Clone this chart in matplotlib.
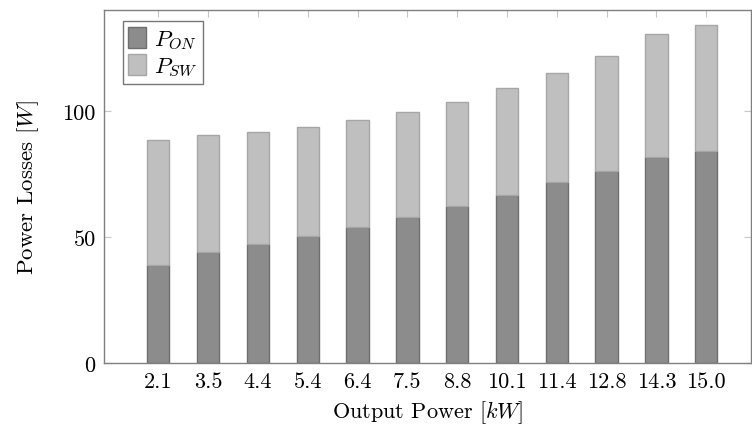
import matplotlib
matplotlib.use("Agg")
import matplotlib.pyplot as plt
import numpy as np
from matplotlib.patches import Patch

categories = ["2.1", "3.5", "4.4", "5.4", "6.4", "7.5", "8.8", "10.1", "11.4", "12.8", "14.3", "15.0"]
p_on = [38.9, 44.1, 47.0, 50.4, 54.0, 57.9, 62.2, 66.7, 71.8, 76.3, 81.8, 84.0]
p_total = [88.4, 90.4, 91.7, 93.7, 96.2, 99.7, 103.7, 108.9, 115.2, 121.6, 130.4, 134.2]
p_sw = [t - o for t, o in zip(p_total, p_on)]
y_ticks = [0, 50, 100]

plt.rcParams['font.family'] = 'serif'
plt.rcParams['font.serif'] = ['cmr10', 'DejaVu Serif']
plt.rcParams['mathtext.fontset'] = 'cm'
plt.rcParams['axes.unicode_minus'] = False

fig = plt.figure(figsize=(7.52, 4.27), dpi=100)
ax = fig.add_axes([104/752, 63/427, 647/752, 353/427])

x = np.arange(len(categories))
w = 0.45
ax.bar(x, p_on, w, color='#8c8c8c', edgecolor='#6e6e6e', linewidth=1.0, zorder=2)
ax.bar(x, p_sw, w, bottom=p_on, color='#bfbfbf', edgecolor='#a6a6a6', linewidth=1.0, zorder=2)

ax.set_xlim(-1.09, 11.9)
ax.set_ylim(0, 140)
ax.set_xticks(x)
ax.set_xticklabels(categories)
ax.set_yticks(y_ticks)
ax.set_yticklabels([str(v) for v in y_ticks])
ax.tick_params(direction='in', length=5, color='#c8c8c8', width=0.8,
               top=True, right=True, labelsize=16, pad=6)
for s in ax.spines.values():
    s.set_color('#808080')
    s.set_linewidth(1.0)

ax.set_xlabel(r'Output Power $[kW]$', fontsize=16, labelpad=5)
ax.set_ylabel(r'Power Losses $[W]$', fontsize=16.5, labelpad=15)

handles = [Patch(facecolor='#8c8c8c', edgecolor='#6e6e6e'),
           Patch(facecolor='#bfbfbf', edgecolor='#a6a6a6')]
leg = ax.legend(handles, [r'$P_{ON}$', r'$P_{SW}$'], loc='upper left',
                bbox_to_anchor=(0.029, 0.968), fontsize=16.5, frameon=True,
                fancybox=False, handlelength=0.75, handleheight=1.0,
                handletextpad=0.35, borderpad=0.25, labelspacing=0.15,
                borderaxespad=0)
leg.get_frame().set_edgecolor('#555555')
leg.get_frame().set_linewidth(1.0)

fig.savefig('out.png', dpi=100)
